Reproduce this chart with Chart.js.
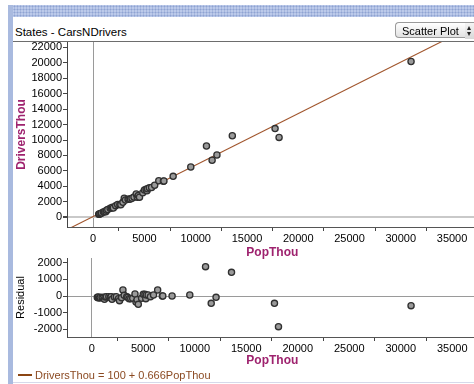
<!DOCTYPE html>
<html><head><meta charset="utf-8">
<script src="https://cdn.jsdelivr.net/npm/chart.js@4.4.0/dist/chart.umd.min.js"></script>
<style>
html,body{margin:0;padding:0;background:#fff;}
body{width:474px;height:384px;position:relative;overflow:hidden;font-family:"Liberation Sans",Arial,sans-serif;}
#strip{position:absolute;left:10px;top:5px;width:464px;height:12px;background-color:#bccaea;background-image:radial-gradient(circle,#8fa3d2 0.9px,transparent 1.1px);background-size:3px 3px;}
#leftbar{position:absolute;left:8px;top:5px;width:5px;height:379px;background:#a9badf;}
#title{position:absolute;left:15px;top:26px;font-size:11.5px;line-height:12px;color:#000;white-space:nowrap;}
#rule{position:absolute;left:13px;top:41px;width:461px;height:1px;background:#6d6d6d;}
#btn{position:absolute;left:395px;top:22px;width:70px;height:16px;border:1px solid #9a9a9a;border-right:none;border-radius:4px 0 0 4px;background:linear-gradient(#ffffff,#e2e2e2);font-size:11px;line-height:16px;padding-left:6px;box-sizing:border-box;white-space:nowrap;z-index:2;}
#spin{position:absolute;left:465px;top:22px;width:9px;height:17px;background:linear-gradient(#f4f4f4,#d8d8d8);border-top:1px solid #9a9a9a;box-sizing:border-box;z-index:2;}
#spin .up{position:absolute;left:2px;top:3px;width:0;height:0;border-left:2.5px solid transparent;border-right:2.5px solid transparent;border-bottom:4px solid #222;}
#spin .dn{position:absolute;left:2px;top:9px;width:0;height:0;border-left:2.5px solid transparent;border-right:2.5px solid transparent;border-top:4px solid #222;}
#bottomrule{position:absolute;left:13px;top:382px;width:461px;height:1px;background:#d6d9ea;}
canvas{position:absolute;}
#legend{position:absolute;left:18px;top:369px;font-size:11px;line-height:12px;color:#8b4a22;white-space:nowrap;}
#legend .sw{display:inline-block;width:14px;height:2px;background:#8b4513;vertical-align:middle;margin-right:3px;margin-top:-2px;}
</style></head>
<body>
<div id="strip"></div>
<div id="leftbar"></div>
<div id="title">States - CarsNDrivers</div>
<div id="rule"></div>
<canvas id="top" width="470" height="226" style="left:13px;top:36px;width:470px;height:226px"></canvas>
<canvas id="bot" width="470" height="118" style="left:13px;top:252px;width:470px;height:118px"></canvas>
<div id="btn">Scatter Plot</div>
<div id="spin"><div class="up"></div><div class="dn"></div></div>
<div id="legend"><span class="sw"></span>DriversThou = 100 + 0.666PopThou</div>
<div id="bottomrule"></div>
<script>
// ---- data ----
const popThou = [540,600,650,760,820,1000,1100,1240,1300,1430,1660,1800,1880,1970,2200,2390,2600,2700,2900,3030,3150,3400,3500,3630,3790,3980,4200,4300,4400,4520,4840,5000,5160,5250,5300,5480,5700,6000,6400,6850,6900,7800,9520,11050,11600,12070,13570,17740,18130,31000];
const driversThou = [380,400,473,486,556,686,723,726,906,1012,1166,1209,1312,1212,1505,1652,1672,1618,1931,2478,2238,2324,2351,2358,2464,2611,3017,2604,2810,2610,3183,3530,3637,3437,3690,3810,3856,4156,4722,4662,4695,5295,6500,9219,7386,8059,10558,11475,10335,20166];
const residual = [-80,-100,-60,-120,-90,-80,-110,-200,-60,-40,-40,-90,-40,-200,-60,-40,-160,-280,-100,360,40,-40,-80,-160,-160,-140,120,-360,-220,-500,-140,100,100,-160,60,60,-40,60,360,0,0,0,60,1760,-440,-80,1420,-440,-1840,-580];
const intercept = 100;
const slope = 0.666;
const xTickValues = [0,2500,5000,7500,10000,12500,15000,17500,20000,22500,25000,27500,30000,32500,35000];
const xLabelValues = [0,5000,10000,15000,20000,25000,30000,35000];
const topYTicks = [0,2000,4000,6000,8000,10000,12000,14000,16000,18000,20000,22000];
const resYTicks = [-2000,-1000,0,1000,2000];
const topXRange = [-2550, 37500];
const topYRange = [-1255, 22680];
const botXRange = [-2400, 37470];
const botYRange = [-2460, 2280];

const PURPLE = '#9e226e';
const BROWN = '#a0552c';
const FONT = '"Liberation Sans", Arial, sans-serif';
const T = 'rgba(0,0,0,0)';

function pts(xs, ys){ return xs.map((x,i)=>({x:x, y:ys[i]})); }
function setTicks(vals){ return s => { s.ticks = vals.map(v=>({value:v})); }; }
const fixW = w => s => { s.width = w; s.paddingTop = 0; s.paddingBottom = 0; };
const fixH = h => s => { s.height = h; s.paddingLeft = 0; s.paddingRight = 0; };

const pointStyle = {
  pointRadius: 3.1, pointBackgroundColor: '#9a9a9a', pointBorderColor: '#303030', pointBorderWidth: 1.3,
  showLine: false
};

function xScale(range, h){
  return {
    type:'linear', min:range[0], max:range[1],
    afterBuildTicks: setTicks(xTickValues),
    afterFit: fixH(h),
    ticks:{ autoSkip:false, maxRotation:0, padding:1, color:'#000', font:{family:FONT,size:11},
      callback: v => xLabelValues.includes(v) ? String(v) : '' },
    grid:{ drawOnChartArea:true, drawTicks:true, tickLength:4,
      color: c => (c.type==='tick' && c.tick && c.tick.value===0) ? '#9a9a9a' : T,
      tickColor: c => (c.tick && xLabelValues.includes(c.tick.value)) ? T : '#444',
      lineWidth:1 },
    border:{ display:true, color:'#555', width:1 },
    title:{ display:true, text:'PopThou', color:PURPLE, font:{family:FONT,size:12,weight:'bold'}, padding:{top:0,bottom:2.5} }
  };
}
function yScale(range, ticks, zeroColor, zeroWidth, w, titleText, titleFont){
  return { type:'linear', min:range[0], max:range[1],
    afterBuildTicks: setTicks(ticks), afterFit: fixW(w),
    ticks:{ autoSkip:false, padding:1, color:'#000', font:{family:FONT,size:11}, callback: v => String(v) },
    grid:{ drawOnChartArea:true, drawTicks:true, tickLength:4,
      color: c => (c.type==='tick' && c.tick && c.tick.value===0) ? zeroColor : T,
      lineWidth: c => (c.tick && c.tick.value===0) ? zeroWidth : 1,
      tickColor:'#444' },
    border:{ display:true, color:'#444', width:1 },
    title:{ display:true, text:titleText, color: titleFont.color, font:{family:FONT,size:titleFont.size,weight:titleFont.weight}, padding:{top:1.3,bottom:0} }
  };
}

Chart.defaults.animation = false;

function mk(id, datasets, xs, ys){
  return new Chart(document.getElementById(id), {
    type:'scatter',
    data:{ datasets },
    options:{
      responsive:false, devicePixelRatio:1, animation:false,
      layout:{ padding:{top:6,left:0,right:0,bottom:0} },
      plugins:{ legend:{display:false}, tooltip:{enabled:false} },
      scales:{ x: xs, y: ys }
    }
  });
}

mk('top', [
    Object.assign({ label:'States', data: pts(popThou, driversThou), order:1 }, pointStyle),
    { type:'line', label:'fit', order:2, borderColor:BROWN, borderWidth:1.1, pointRadius:0, fill:false,
      data:[{x:topXRange[0], y:intercept+slope*topXRange[0]},{x:topXRange[1], y:intercept+slope*topXRange[1]}] }
  ], xScale(topXRange, 35),
  yScale(topYRange, topYTicks, '#c9c9c9', 2, 54, 'DriversThou', {color:PURPLE,size:12,weight:'bold'}));

mk('bot', [ Object.assign({ label:'Residual', data: pts(popThou, residual) }, pointStyle) ], xScale(botXRange, 33),
  yScale(botYRange, resYTicks, '#9a9a9a', 1, 54, 'Residual', {color:'#000',size:11,weight:'normal'}));
</script>
</body></html>
